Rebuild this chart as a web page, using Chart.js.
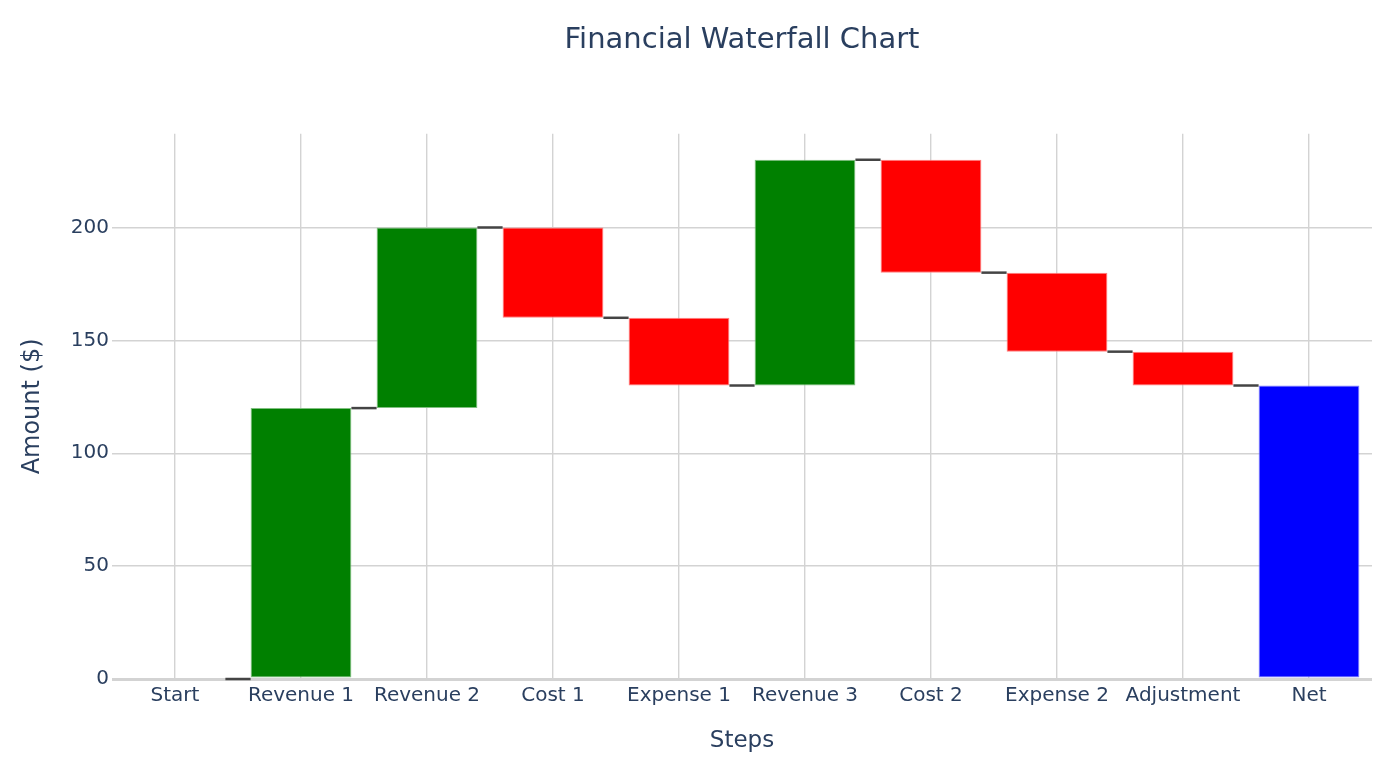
<!DOCTYPE html>
<html>
<head>
<meta charset="utf-8">
<script src="https://cdn.jsdelivr.net/npm/chart.js@4/dist/chart.umd.min.js"></script>
<style>
  html, body { margin: 0; padding: 0; background: #fff; }
  #wrap { width: 1400px; height: 767px; }
</style>
</head>
<body>
<div id="wrap"><canvas id="waterfallChart"></canvas></div>
<script>
const categories = ['Start', 'Revenue 1', 'Revenue 2', 'Cost 1', 'Expense 1', 'Revenue 3', 'Cost 2', 'Expense 2', 'Adjustment', 'Net'];
const measures = ['absolute', 'relative', 'relative', 'relative', 'relative', 'relative', 'relative', 'relative', 'relative', 'total'];
const amounts = [0, 120, 80, -40, -30, 100, -50, -35, -15, 0];
const yTickValues = [0, 50, 100, 150, 200];

const textColor = '#2a3f5f';
const fontFamily = '"DejaVu Sans", Verdana, sans-serif';

// Build floating bars [from, to] from the step amounts
let running = 0;
const floating = [];
const levels = [];
measures.forEach((m, i) => {
  if (m === 'absolute') {
    floating.push([0, amounts[i]]);
    running = amounts[i];
  } else if (m === 'relative') {
    floating.push([running, running + amounts[i]]);
    running += amounts[i];
  } else {
    floating.push([0, running]);
  }
  levels.push(running);
});

const fillColors = measures.map((m, i) => {
  if (m === 'total') return '#0000ff';
  return amounts[i] < 0 ? '#ff0000' : '#008000';
});
const edgeColors = measures.map((m, i) => {
  if (m === 'total') return '#8080ff';
  return amounts[i] < 0 ? '#ff8080' : '#80bf80';
});

// Connector lines between neighbouring bars
const connectorPlugin = {
  id: 'connectors',
  afterDatasetsDraw(chart) {
    const meta = chart.getDatasetMeta(0);
    const xs = chart.scales.x;
    const ys = chart.scales.y;
    const ref = meta.data.find(el => el && isFinite(el.width) && el.width > 0);
    const half = ref.width / 2;
    const ctx = chart.ctx;
    ctx.save();
    ctx.strokeStyle = '#444444';
    ctx.lineWidth = 2.5;
    for (let i = 0; i < categories.length - 1; i++) {
      const y = ys.getPixelForValue(levels[i]);
      ctx.beginPath();
      ctx.moveTo(xs.getPixelForValue(i) + half, y);
      ctx.lineTo(xs.getPixelForValue(i + 1) - half, y);
      ctx.stroke();
    }
    ctx.restore();
  }
};

new Chart(document.getElementById('waterfallChart').getContext('2d'), {
  type: 'bar',
  data: {
    labels: categories,
    datasets: [{
      data: floating,
      backgroundColor: fillColors,
      borderColor: edgeColors,
      borderWidth: amounts.map((a, i) => (floating[i][0] === floating[i][1] ? 0 : 1)),
      borderSkipped: false,
      barPercentage: 0.8,
      categoryPercentage: 1.0
    }]
  },
  options: {
    responsive: true,
    maintainAspectRatio: false,
    animation: false,
    layout: { padding: { left: 18, right: 28, top: 0, bottom: 0 } },
    plugins: {
      legend: { display: false },
      tooltip: { enabled: false },
      title: {
        display: true,
        fullSize: false,
        text: 'Financial Waterfall Chart',
        color: textColor,
        font: { family: fontFamily, size: 29, weight: 'normal' },
        padding: { top: 23, bottom: 76 }
      }
    },
    scales: {
      x: {
        offset: true,
        grid: { offset: false, color: '#d3d3d3', lineWidth: 1.4, drawTicks: false },
        border: { display: false },
        ticks: { color: textColor, font: { family: fontFamily, size: 20 }, padding: 5, maxRotation: 0 },
        title: {
          display: true,
          text: 'Steps',
          color: textColor,
          font: { family: fontFamily, size: 23 },
          padding: { top: 0, bottom: 12 }
        },
        afterFit(scale) { scale.height = 88; }
      },
      y: {
        min: 0,
        max: 241.5,
        grid: {
          color: '#d3d3d3',
          lineWidth: ctx => (ctx.tick && ctx.tick.value === 0 ? 3 : 1.4),
          drawTicks: false
        },
        border: { display: false },
        ticks: { color: textColor, font: { family: fontFamily, size: 20 }, padding: 3, stepSize: 50 },
        afterBuildTicks(scale) {
          scale.ticks = yTickValues.map(v => ({ value: v }));
        },
        title: {
          display: true,
          text: 'Amount ($)',
          color: textColor,
          font: { family: fontFamily, size: 24 },
          padding: { top: 0, bottom: 0 }
        },
        afterFit(scale) { scale.width = 94; }
      }
    }
  },
  plugins: [connectorPlugin]
});
</script>
</body>
</html>
